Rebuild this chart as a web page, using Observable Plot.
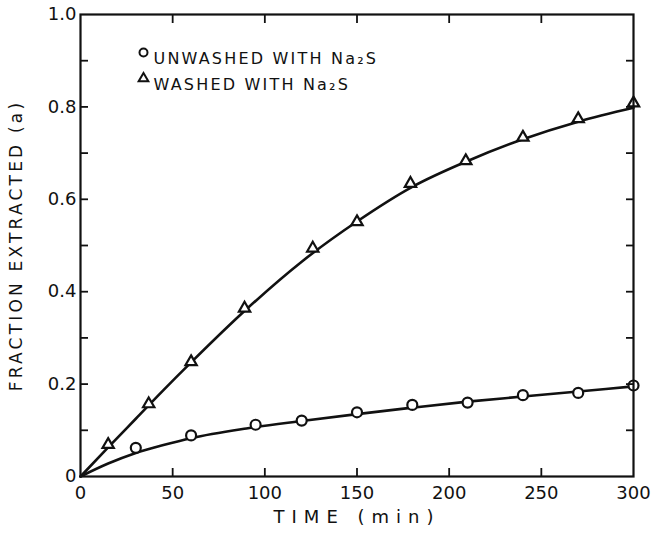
<!DOCTYPE html>
<html>
<head>
<meta charset="utf-8">
<script src="https://cdn.jsdelivr.net/npm/d3@7"></script>
<script src="https://cdn.jsdelivr.net/npm/@observablehq/plot@0.6"></script>
<style>
  body { margin: 0; background: #fff; }
  #chart svg { display: block; }
  g[aria-description="x title"] text { letter-spacing: 7px; }
  g[aria-description="y title"] text { letter-spacing: 3.2px; }
  g[aria-description="legend"] text { letter-spacing: 2.2px; }
</style>
</head>
<body>
<div id="chart"></div>
<script>
// Measured points: sample not washed with Na2S
const unwashedTime = [30, 60, 95, 120, 150, 180, 210, 240, 270, 300];
const unwashedFraction = [0.062, 0.089, 0.112, 0.121, 0.139, 0.155, 0.160, 0.176, 0.181, 0.197];

// Measured points: sample washed with Na2S
const washedTime = [15, 37, 60, 89, 126, 150, 179, 209, 240, 270, 300];
const washedFraction = [0.069, 0.157, 0.248, 0.364, 0.494, 0.551, 0.634, 0.683, 0.734, 0.774, 0.808];

// Smooth fitted curves through each series
const fitTime = [0, 15, 30, 45, 60, 90, 120, 150, 180, 210, 240, 270, 300];
const unwashedFit = [0, 0.028, 0.051, 0.068, 0.083, 0.104, 0.120, 0.135, 0.149, 0.162, 0.173, 0.184, 0.195];
const washedFit = [0, 0.063, 0.125, 0.187, 0.247, 0.362, 0.465, 0.552, 0.627, 0.683, 0.730, 0.768, 0.798];

// Axis ticks and labels
const xLabelTicks = [0, 50, 100, 150, 200, 250, 300];
const xInnerTicks = [50, 100, 150, 200, 250];
const yLabelTicks = [0, 0.2, 0.4, 0.6, 0.8, 1.0];
const yInnerTicks = [0.1, 0.2, 0.3, 0.4, 0.5, 0.6, 0.7, 0.8, 0.9];

const legendLabels = ["UNWASHED WITH Na\u2082S", "WASHED WITH Na\u2082S"];
const xTitle = "TIME (min)";
const yTitle = "FRACTION EXTRACTED (a)";

const ink = "#111";
const rows = (xs, ys) => xs.map((x, i) => ({x, y: ys[i]}));
const blank = () => "";

const chart = Plot.plot({
  width: 652,
  height: 535,
  marginTop: 14,
  marginRight: 19,
  marginBottom: 59,
  marginLeft: 80,
  x: {domain: [0, 300]},
  y: {domain: [0, 1]},
  style: {fontFamily: "'DejaVu Sans', sans-serif", fontSize: "18px", color: ink, background: "#fff"},
  marks: [
    // fitted curves
    Plot.line(rows(fitTime, washedFit), {x: "x", y: "y", curve: "monotone-x", stroke: ink, strokeWidth: 2.6}),
    Plot.line(rows(fitTime, unwashedFit), {x: "x", y: "y", curve: "monotone-x", stroke: ink, strokeWidth: 2.6}),
    // measured points
    Plot.dot(rows(washedTime, washedFraction), {x: "x", y: "y", symbol: "triangle", r: 4.2, fill: "#fff", stroke: ink, strokeWidth: 2.2}),
    Plot.dot(rows(unwashedTime, unwashedFraction), {x: "x", y: "y", symbol: "circle", r: 5, fill: "#fff", stroke: ink, strokeWidth: 2.2}),
    // frame with inward ticks on all four sides
    Plot.frame({stroke: ink, strokeWidth: 2.2}),
    Plot.axisX(xInnerTicks, {anchor: "bottom", tickSize: -8, tickFormat: blank, label: null, stroke: ink, strokeWidth: 1.8}),
    Plot.axisX(xInnerTicks, {anchor: "top", tickSize: -8, tickFormat: blank, label: null, stroke: ink, strokeWidth: 1.8}),
    Plot.axisY(yInnerTicks, {anchor: "left", tickSize: -8, tickFormat: blank, label: null, stroke: ink, strokeWidth: 1.8}),
    Plot.axisY(yInnerTicks, {anchor: "right", tickSize: -8, tickFormat: blank, label: null, stroke: ink, strokeWidth: 1.8}),
    // tick labels
    Plot.axisX(xLabelTicks, {anchor: "bottom", tickSize: 0, tickPadding: 10, label: null, fill: ink, tickFormat: d => String(d)}),
    Plot.axisY(yLabelTicks, {anchor: "left", tickSize: 0, tickPadding: 4, label: null, fill: ink, tickFormat: d => d === 0 ? "0" : d.toFixed(1)}),
    // axis titles
    Plot.text([xTitle], {frameAnchor: "bottom", dy: 46, fontSize: 18, fill: ink, ariaDescription: "x title"}),
    Plot.text([yTitle], {frameAnchor: "left", textAnchor: "middle", dx: -64, rotate: -90, fontSize: 17, fill: ink, ariaDescription: "y title"}),
    // legend
    Plot.dot([legendLabels[0]], {frameAnchor: "top-left", dx: 63, dy: 38, symbol: "circle", r: 4, fill: "#fff", stroke: ink, strokeWidth: 2}),
    Plot.dot([legendLabels[1]], {frameAnchor: "top-left", dx: 63, dy: 64, symbol: "triangle", r: 3.6, fill: "#fff", stroke: ink, strokeWidth: 2}),
    Plot.text([legendLabels[0]], {frameAnchor: "top-left", dx: 73, dy: 38, textAnchor: "start", fontSize: 16, fill: ink, ariaDescription: "legend"}),
    Plot.text([legendLabels[1]], {frameAnchor: "top-left", dx: 73, dy: 64, textAnchor: "start", fontSize: 16, fill: ink, ariaDescription: "legend"})
  ]
});

document.getElementById("chart").appendChild(chart);
</script>
</body>
</html>
